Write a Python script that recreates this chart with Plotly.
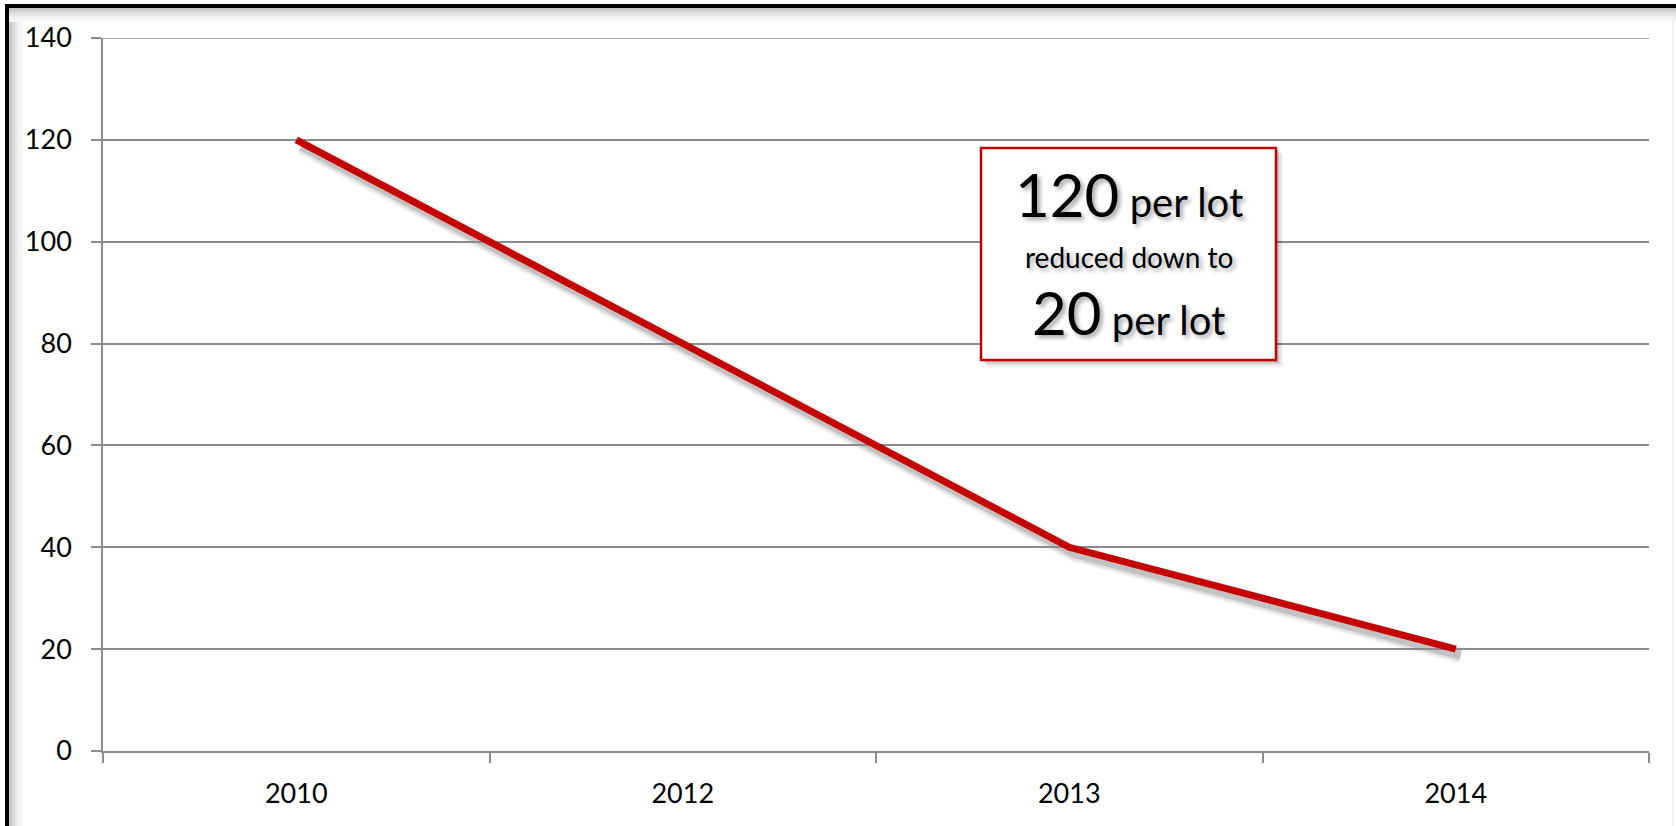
import plotly.graph_objects as go

# ---- data ----
years = ["2010", "2012", "2013", "2014"]
values = [120, 80, 40, 20]
y_ticks = [0, 20, 40, 60, 80, 100, 120, 140]
box_line1_big = "120"
box_line1_small = "per lot"
box_line2 = "reduced down to"
box_line3_big = "20"
box_line3_small = "per lot"

FIG_W, FIG_H = 1676, 826
L, R, T, B = 103, 27, 38, 75
PW = FIG_W - L - R
PH = FIG_H - T - B


def px(x):
    return (x - L) / PW


def py(y):
    return (FIG_H - B - y) / PH


FONT = "Lato"
GRID = "#8c8c8c"
RED = "#c40000"

# shadow offset in pixels
SDX, SDY = 5, 6
cat_px = PW / len(years)
ymax = y_ticks[-1]
y_px = PH / ymax

fig = go.Figure()

# shadow traces (on shifted hidden axes)
for w, a in [(17, 0.05), (13, 0.08), (9, 0.13)]:
    fig.add_trace(go.Scatter(
        x=years, y=values, mode="lines",
        line=dict(color=f"rgba(0,0,0,{a})", width=w),
        xaxis="x", yaxis="y", hoverinfo="skip", showlegend=False,
    ))

# main line
fig.add_trace(go.Scatter(
    x=years, y=values, mode="lines",
    line=dict(color=RED, width=7),
    xaxis="x2", yaxis="y2", showlegend=False,
))

shapes = []
# top gridline (plotly skips the gridline at the range edge)
shapes.append(dict(type="line", xref="paper", yref="y2", x0=0, x1=1,
                   y0=y_ticks[-1], y1=y_ticks[-1],
                   line=dict(color=GRID, width=1.5), layer="below"))
# frame: black border left and top
shapes.append(dict(type="rect", xref="paper", yref="paper",
                   x0=px(5), x1=px(9), y0=py(FIG_H + 5), y1=py(4),
                   fillcolor="black", line=dict(width=0), layer="above"))
shapes.append(dict(type="rect", xref="paper", yref="paper",
                   x0=px(5), x1=px(FIG_W + 5), y0=py(8), y1=py(4),
                   fillcolor="black", line=dict(width=0), layer="above"))
# inner gradient shadow
grads = ["#c4c4c4", "#d2d2d2", "#dddddd", "#e6e6e6", "#eeeeee", "#f4f4f4", "#f9f9f9"]
for i, c in enumerate(grads):
    shapes.append(dict(type="rect", xref="paper", yref="paper",
                       x0=px(9), x1=px(FIG_W + 5), y0=py(8 + 2 * i + 2), y1=py(8 + 2 * i),
                       fillcolor=c, line=dict(width=0), layer="below"))
    shapes.append(dict(type="rect", xref="paper", yref="paper",
                       x0=px(9 + 2 * i), x1=px(9 + 2 * i + 2), y0=py(FIG_H + 5), y1=py(8 + 2 * i),
                       fillcolor=c, line=dict(width=0), layer="below"))
# faint right edge line
shapes.append(dict(type="line", xref="paper", yref="paper",
                   x0=px(1673), x1=px(1673), y0=py(FIG_H + 5), y1=py(20),
                   line=dict(color="#e4e4e4", width=1), layer="below"))

# annotation box shadow + box
bx0, bx1, by0, by1 = 981, 1276, 148, 360
for off, a in [(7, 0.05), (5, 0.08), (3, 0.12)]:
    shapes.append(dict(type="rect", xref="paper", yref="paper",
                       x0=px(bx0 + off - 1), x1=px(bx1 + off), y0=py(by1 + off), y1=py(by0 + off - 1),
                       fillcolor=f"rgba(0,0,0,{a})", line=dict(width=0), layer="above"))
shapes.append(dict(type="rect", xref="paper", yref="paper",
                   x0=px(bx0), x1=px(bx1), y0=py(by1), y1=py(by0),
                   fillcolor="white", line=dict(color=RED, width=2.5), layer="above"))

shadow_txt = "3px 3px 4px rgba(0,0,0,0.35)"
cx = px((bx0 + bx1) / 2)
annotations = [
    dict(xref="paper", yref="paper", x=cx, y=py(194), xanchor="center", yanchor="middle",
         showarrow=False,
         text=f"<span style='font-size:60px'>{box_line1_big}</span> {box_line1_small}",
         font=dict(family=FONT, size=40, color="black", shadow=shadow_txt)),
    dict(xref="paper", yref="paper", x=cx, y=py(257), xanchor="center", yanchor="middle",
         showarrow=False, text=box_line2,
         font=dict(family=FONT, size=28, color="black", shadow=shadow_txt)),
    dict(xref="paper", yref="paper", x=cx, y=py(312), xanchor="center", yanchor="middle",
         showarrow=False,
         text=f"<span style='font-size:60px'>{box_line3_big}</span> {box_line3_small}",
         font=dict(family=FONT, size=40, color="black", shadow=shadow_txt)),
]

dx = SDX / cat_px
dy = SDY / y_px
n = len(years)

fig.update_layout(
    width=FIG_W, height=FIG_H,
    margin=dict(l=L, r=R, t=T, b=B, pad=0),
    paper_bgcolor="white",
    plot_bgcolor="rgba(0,0,0,0)",
    font=dict(family=FONT, size=27, color="black"),
    showlegend=False,
    xaxis=dict(domain=[0, 1], type="category", categoryarray=years,
               range=[-0.5 - dx, n - 0.5 - dx], visible=False, fixedrange=True),
    yaxis=dict(domain=[0, 1], range=[0 + dy, ymax + dy], visible=False, fixedrange=True),
    xaxis2=dict(domain=[0, 1], anchor="y2", type="category", categoryarray=years,
                range=[-0.5, n - 0.5],
                showgrid=False, showline=True, linecolor=GRID, linewidth=1.5,
                ticks="outside", tickson="boundaries", ticklen=10, tickcolor=GRID, tickwidth=1.5,
                ticklabelstandoff=18, zeroline=False,
                tickfont=dict(family=FONT, size=27, color="black")),
    yaxis2=dict(domain=[0, 1], anchor="x2", range=[0, ymax], tickvals=y_ticks,
                showgrid=True, gridcolor=GRID, gridwidth=1.5,
                showline=True, linecolor=GRID, linewidth=1.5,
                ticks="outside", ticklen=10, tickcolor=GRID, tickwidth=1.5,
                ticklabelstandoff=14, zeroline=False,
                tickfont=dict(family=FONT, size=27, color="black")),
    shapes=shapes,
    annotations=annotations,
)

fig.write_html("out.html")
